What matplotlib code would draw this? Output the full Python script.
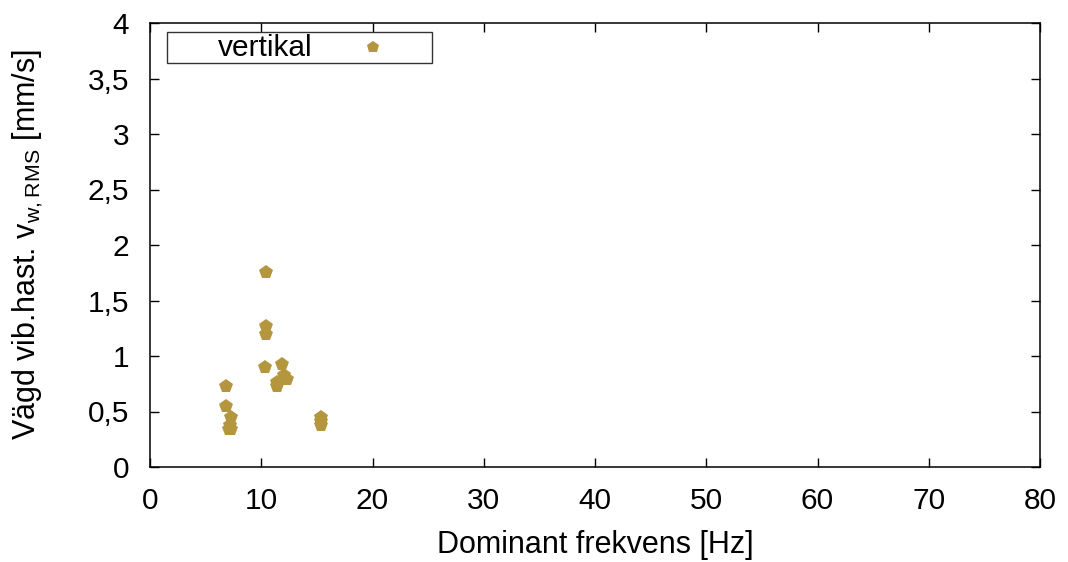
import matplotlib.pyplot as plt
from matplotlib.patches import Rectangle
from matplotlib.ticker import FuncFormatter

plt.rcParams['font.family'] = ['Liberation Sans', 'DejaVu Sans']
plt.rcParams['mathtext.default'] = 'regular'

# dominant frequency [Hz] and weighted vibration velocity [mm/s]
frekvens = [10.4, 10.4, 10.4, 10.3, 11.9, 12.0, 12.3, 11.4, 11.4,
            6.8, 6.8, 7.3, 7.2, 7.1, 7.3, 15.4, 15.4, 15.4]
v_rms = [1.76, 1.27, 1.20, 0.90, 0.93, 0.83, 0.79, 0.77, 0.73,
         0.73, 0.55, 0.45, 0.38, 0.34, 0.34, 0.45, 0.41, 0.38]

x_ticks = [0, 10, 20, 30, 40, 50, 60, 70, 80]
y_ticks = [0, 0.5, 1, 1.5, 2, 2.5, 3, 3.5, 4]

farg = '#b3963e'
fs = 21.5

fig = plt.figure(figsize=(10.68, 5.62), dpi=100)
ax = fig.add_axes([150 / 1068, 1 - 467 / 562, 890 / 1068, 444 / 562])

ax.plot(frekvens, v_rms, linestyle='none', marker='p', markersize=10.5,
        color=farg, markeredgewidth=0)

ax.set_xlim(0, 80)
ax.set_ylim(0, 4)
ax.set_xticks(x_ticks)
ax.set_yticks(y_ticks)
ax.yaxis.set_major_formatter(FuncFormatter(lambda v, p: ('%g' % v).replace('.', ',')))
ax.tick_params(direction='in', length=6.5, width=1, labelsize=fs,
               top=True, right=True)
ax.tick_params(axis='x', pad=14.5)
ax.tick_params(axis='y', pad=15)
for s in ax.spines.values():
    s.set_linewidth(1.1)

ax.set_xlabel('Dominant frekvens [Hz]', fontsize=fs + 0.5)
ax.set_ylabel('Vägd vib.hast. v$_{w,RMS}$ [mm/s]', fontsize=fs + 0.5)
ax.xaxis.set_label_coords(0.5, -0.142)
ax.yaxis.set_label_coords(-0.118, 0.5)

# legend box, gnuplot style: text then sample marker
ax.add_patch(Rectangle((0.019, 0.910), 0.298, 0.070, transform=ax.transAxes,
                       fill=False, edgecolor='#333333', linewidth=1, zorder=5))
ax.text(0.183, 0.943, 'vertikal', transform=ax.transAxes, ha='right',
        va='center', fontsize=fs, zorder=6)
ax.plot([0.251], [0.945], transform=ax.transAxes, marker='p', markersize=9,
        color=farg, markeredgewidth=0, clip_on=False, zorder=6)

fig.savefig('out.png', dpi=100)
